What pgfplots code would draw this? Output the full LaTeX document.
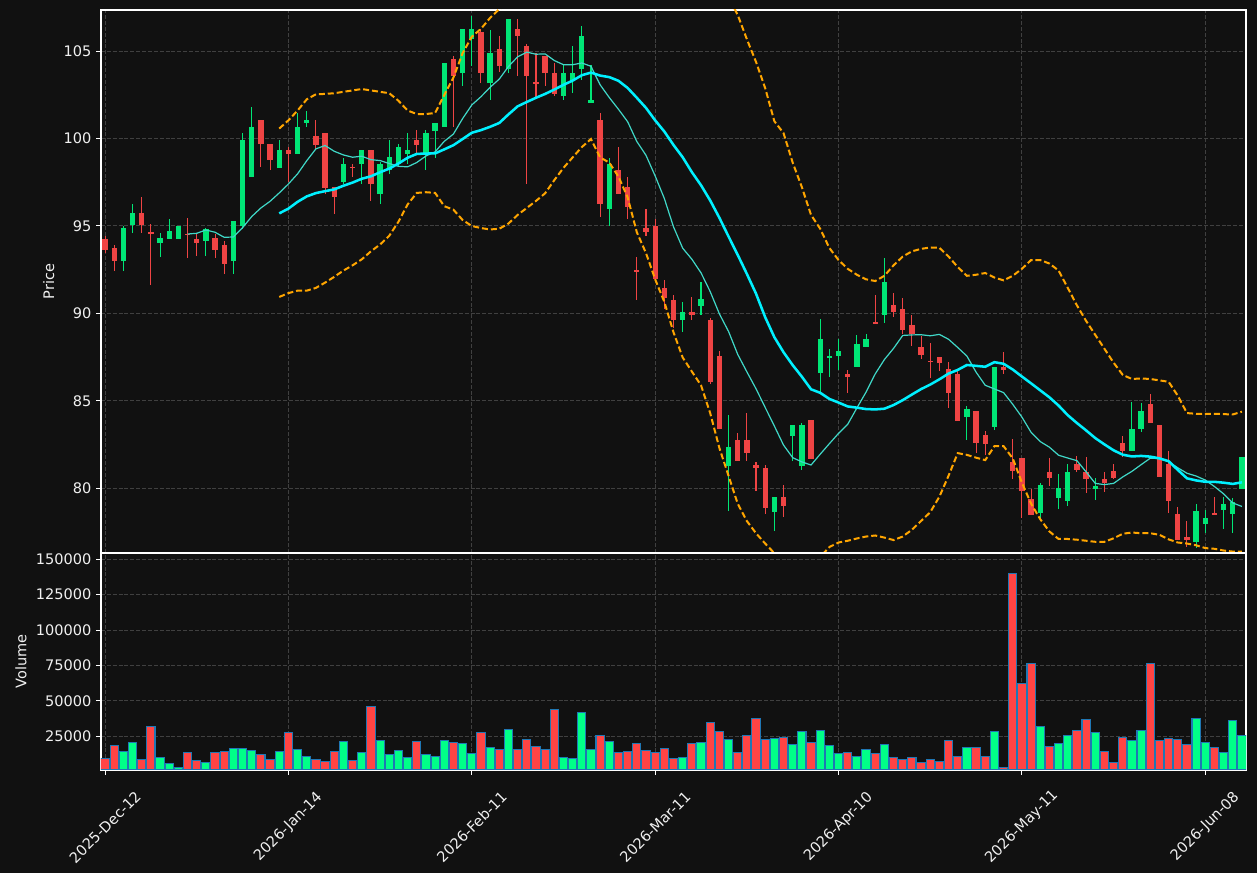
\documentclass[border=0pt]{standalone}
\usepackage{fontspec}
\setmainfont{DejaVu Sans}
\usepackage{pgfplots}
\usepackage{pgfplotstable}
\pgfplotsset{compat=1.18}
\definecolor{bg}{HTML}{111111}
\definecolor{cup}{HTML}{00E676}
\definecolor{cdn}{HTML}{EF4444}
\definecolor{vup}{HTML}{00FF88}
\definecolor{vdn}{HTML}{FF4444}
\definecolor{vedge}{HTML}{1F77B4}
\definecolor{gridc}{HTML}{404040}
\definecolor{matw}{HTML}{00F0FF}
\definecolor{mate}{HTML}{40D8C8}
\definecolor{bandc}{HTML}{FFA500}
\definecolor{txt}{HTML}{F0F0F0}

\pgfplotstableread{
x o h l c v
2 92.97 95.00 92.45 94.90 14409
3 95.08 96.27 94.60 95.75 20765
6 94.00 94.58 93.25 94.32 9935
7 94.28 95.39 94.28 94.72 5935
8 94.28 95.02 94.28 95.02 3110
11 94.12 94.88 93.31 94.82 6641
14 92.97 95.29 92.27 95.29 16528
15 95.00 100.31 94.80 99.93 16528
16 97.78 101.80 97.78 100.66 15115
19 98.34 99.93 98.34 99.35 14409
21 99.09 101.46 99.09 100.66 15822
22 100.86 101.60 100.66 101.08 10879
26 97.52 98.91 97.42 98.56 21471
28 98.52 99.35 97.42 99.35 13703
30 96.81 98.68 96.27 98.56 22177
31 98.18 99.91 97.98 98.96 12290
32 98.52 99.67 98.42 99.53 15115
33 99.09 100.33 98.52 99.35 10172
35 99.17 100.49 98.18 100.33 12290
36 100.45 100.90 98.91 100.90 10879
37 100.64 104.34 100.64 104.34 22177
39 103.73 106.27 102.99 106.27 20059
40 105.68 107.01 104.14 106.27 12996
42 103.15 106.23 102.20 104.88 17234
44 103.95 106.83 103.73 106.83 29946
50 102.41 104.28 102.20 103.77 10172
51 103.29 105.30 102.59 103.77 9466
52 103.95 106.45 103.35 105.88 41952
53 102.02 104.18 102.02 102.22 15822
55 95.99 98.91 94.99 98.56 21471
63 89.63 90.66 88.91 90.06 10172
65 90.42 91.79 89.90 90.80 20765
68 81.27 84.20 78.73 82.37 22883
73 78.67 79.48 77.53 79.48 23589
75 83.00 83.62 81.57 83.62 19352
76 81.27 83.74 81.02 83.62 28533
78 86.62 89.67 85.53 88.53 29239
79 87.48 87.98 86.38 87.58 18647
80 87.54 88.51 86.78 87.84 12996
82 86.92 88.79 86.92 88.23 10879
83 88.07 88.81 88.07 88.51 15822
85 89.92 93.15 89.47 91.79 19352
94 84.10 84.70 82.76 84.56 17234
97 83.50 86.94 83.34 86.94 28533
102 78.57 80.28 78.29 80.18 32064
104 79.46 80.82 78.84 80.02 20059
105 79.28 81.37 78.97 80.91 25709
108 79.98 80.56 79.32 80.16 27827
112 82.15 84.95 82.15 83.38 22177
113 83.38 84.89 83.20 84.40 29239
119 76.94 79.08 76.58 78.69 37714
120 77.97 78.77 77.43 78.29 20765
122 78.77 79.48 77.69 79.12 13703
123 78.53 79.42 77.47 79.22 36302
124 79.96 81.77 79.96 81.77 25709
}\up

\pgfplotstableread{
x o h l c v
0 94.28 94.40 93.44 93.60 9231
1 93.74 93.90 92.45 92.97 18411
4 95.75 96.65 94.60 95.08 8760
5 94.64 95.09 91.60 94.58 32064
9 94.56 95.47 93.15 94.50 13703
10 94.26 94.54 93.31 94.00 8053
12 94.32 94.54 93.15 93.60 13703
13 93.92 94.12 92.27 92.83 14409
17 101.08 101.08 98.36 99.67 12290
18 99.69 99.69 98.18 98.76 8760
20 99.35 99.51 97.52 99.09 27827
23 100.13 101.08 99.41 99.65 8760
24 100.33 100.33 96.83 97.18 7347
25 97.22 97.22 95.67 96.63 14409
27 98.40 98.56 97.78 98.34 8053
29 99.35 99.35 96.43 97.38 46189
34 99.93 100.49 99.17 99.65 21471
38 104.56 104.72 100.64 103.55 20765
41 106.10 106.27 103.15 103.73 27827
43 105.14 105.88 103.79 104.12 15822
45 106.27 106.83 103.59 105.84 15822
46 105.30 105.42 97.42 103.55 22883
47 103.21 104.88 102.39 103.15 17940
48 104.74 104.74 102.99 103.73 15822
49 103.77 104.34 102.43 102.55 44071
54 101.08 101.46 95.53 96.23 25709
56 98.22 99.51 96.81 96.81 13703
57 97.24 97.82 95.39 96.09 14409
58 92.49 93.25 90.76 92.41 20059
59 94.90 95.99 94.40 94.68 15115
60 95.00 95.39 91.99 91.99 13703
61 91.46 91.89 90.26 90.86 16528
62 90.76 91.06 89.17 89.61 9466
64 90.06 90.94 89.61 89.92 20059
66 89.63 89.71 85.99 86.05 34889
67 87.58 87.84 83.40 83.40 28533
69 82.76 83.16 81.55 81.55 13703
70 82.76 84.30 81.55 82.01 25709
71 81.31 81.51 79.86 81.15 37714
72 81.15 81.31 78.53 78.87 22883
74 79.48 80.16 78.37 78.99 24296
77 83.90 83.90 81.67 81.67 20765
81 86.54 86.78 85.43 86.38 13703
84 89.51 91.06 89.37 89.45 12996
86 90.46 91.16 89.77 90.06 10172
87 90.26 90.90 88.83 89.07 8760
88 89.33 89.92 88.11 88.83 10172
89 88.07 88.71 87.38 87.64 6641
90 87.29 88.33 86.28 87.22 8760
91 87.52 87.52 86.68 87.18 7347
92 86.82 87.24 84.59 85.43 22177
93 86.54 86.68 83.84 83.84 10879
95 84.40 84.40 82.01 82.57 17234
96 83.06 83.30 81.91 82.55 10879
98 86.94 87.78 86.52 86.78 3110
99 81.51 82.80 80.52 80.96 140113
100 81.71 81.71 78.33 79.86 62431
101 79.38 79.98 78.49 78.49 76555
103 80.91 81.71 80.12 80.58 17940
106 81.41 81.87 80.91 81.07 29239
107 80.91 81.77 79.72 80.52 37008
109 80.52 80.96 79.76 80.28 14409
110 80.97 81.39 80.56 80.58 6641
111 82.57 82.97 81.77 82.15 24296
114 84.83 85.39 83.76 83.76 76555
115 83.62 83.62 80.66 80.66 22177
116 81.41 82.15 78.57 79.28 23589
117 78.53 78.93 77.04 77.04 22883
118 77.24 78.13 76.64 77.04 19352
121 78.56 79.48 78.47 78.49 17234
}\down

\pgfplotstableread{
x y
9 94.54
10 94.58
11 94.77
12 94.64
13 94.35
14 94.37
15 94.90
16 95.54
17 96.03
18 96.41
19 96.89
20 97.40
21 97.98
22 98.73
23 99.41
24 99.60
25 99.27
26 99.06
27 98.93
28 98.99
29 98.79
30 98.74
31 98.57
32 98.41
33 98.38
34 98.63
35 99.00
36 99.24
37 99.84
38 100.26
39 101.14
40 101.92
41 102.39
42 102.93
43 103.40
44 104.12
45 104.67
46 104.94
47 104.82
48 104.84
49 104.46
50 104.22
51 104.22
52 104.32
53 104.13
54 103.07
55 102.34
56 101.67
57 100.96
58 99.83
59 99.04
60 97.86
61 96.57
62 94.95
63 93.73
64 93.10
65 92.32
66 91.25
67 89.98
68 88.97
69 87.66
70 86.66
71 85.69
72 84.62
73 83.56
74 82.47
75 81.75
76 81.51
77 81.33
78 81.95
79 82.55
80 83.14
81 83.66
82 84.59
83 85.50
84 86.54
85 87.36
86 88.00
87 88.74
88 88.77
89 88.78
90 88.72
91 88.80
92 88.52
93 88.05
94 87.56
95 86.64
96 85.89
97 85.68
98 85.47
99 84.80
100 84.07
101 83.20
102 82.67
103 82.35
104 81.89
105 81.73
106 81.58
107 80.94
108 80.28
109 80.21
110 80.28
111 80.65
112 80.97
113 81.35
114 81.72
115 81.70
116 81.52
117 81.17
118 80.86
119 80.70
120 80.47
121 80.10
122 79.68
123 79.16
124 78.96
}\maten

\pgfplotstableread{
x m u l
19 95.72 100.57 90.94
20 95.99 101.04 91.16
21 96.38 101.60 91.30
22 96.69 102.24 91.30
23 96.88 102.53 91.46
24 96.99 102.55 91.76
25 97.09 102.59 92.09
26 97.30 102.67 92.45
27 97.48 102.75 92.75
28 97.70 102.83 93.09
29 97.84 102.75 93.55
30 98.07 102.67 93.94
31 98.28 102.59 94.44
32 98.57 102.16 95.24
33 98.90 101.60 96.23
34 99.12 101.40 96.89
35 99.14 101.40 96.93
36 99.15 101.46 96.89
37 99.38 102.49 96.13
38 99.62 103.49 95.93
39 99.97 104.88 95.34
40 100.33 105.82 95.00
41 100.48 106.27 94.88
42 100.67 106.90 94.80
43 100.89 107.40 94.84
44 101.38 107.70 95.14
45 101.84 108.05 95.63
46 102.09 108.15 96.03
47 102.33 108.23 96.43
48 102.55 108.23 96.87
49 102.80 107.98 97.62
50 103.07 107.82 98.32
51 103.31 107.70 98.92
52 103.62 107.73 99.51
53 103.77 107.57 99.97
54 103.60 108.28 98.92
55 103.51 108.40 98.62
56 103.30 108.78 97.82
57 102.89 109.15 96.63
58 102.33 110.02 94.64
59 101.75 110.05 93.45
60 101.04 110.13 91.95
61 100.40 110.14 90.66
62 99.63 110.29 88.92
63 98.93 110.38 87.48
64 98.08 109.48 86.68
65 97.33 108.77 85.89
66 96.46 108.62 84.30
67 95.47 108.63 82.31
68 94.40 108.08 80.72
69 93.35 107.07 79.12
70 92.26 105.68 78.13
71 91.13 104.38 77.43
72 89.78 102.88 76.84
73 88.64 100.99 76.29
74 87.78 100.31 75.25
75 87.04 98.62 75.46
76 86.38 97.22 75.54
77 85.66 95.63 75.69
78 85.46 94.84 76.08
79 85.11 93.74 76.64
80 84.90 93.05 76.90
81 84.68 92.55 77.00
82 84.61 92.21 77.13
83 84.53 91.95 77.24
84 84.51 91.85 77.30
85 84.55 92.15 77.18
86 84.76 92.75 77.04
87 85.04 93.25 77.24
88 85.36 93.55 77.63
89 85.67 93.69 78.13
90 85.93 93.77 78.63
91 86.23 93.75 79.52
92 86.56 93.25 80.72
93 86.77 92.65 82.01
94 87.05 92.15 81.91
95 87.00 92.21 81.75
96 86.95 92.31 81.61
97 87.21 92.05 82.41
98 87.12 91.89 82.41
99 86.79 92.15 81.71
100 86.39 92.55 80.32
101 86.00 93.05 79.12
102 85.60 93.05 78.23
103 85.20 92.85 77.53
104 84.73 92.45 77.10
105 84.18 91.46 77.10
106 83.73 90.46 77.06
107 83.31 89.57 77.00
108 82.87 88.77 76.94
109 82.51 87.98 76.94
110 82.17 87.18 77.14
111 81.92 86.48 77.40
112 81.82 86.25 77.47
113 81.85 86.28 77.43
114 81.81 86.25 77.43
115 81.71 86.17 77.34
116 81.55 86.09 77.08
117 81.05 85.29 76.90
118 80.57 84.30 76.84
119 80.45 84.26 76.74
120 80.37 84.26 76.58
121 80.37 84.26 76.54
122 80.32 84.24 76.44
123 80.25 84.22 76.38
124 80.34 84.38 76.38
}\matw

\pgfplotsset{
  chart/.style={
    scale only axis, width=858.75pt,
    xmin=-0.44, xmax=124.44,
    axis line style={draw=white, line width=0.8pt},
    tick style={draw=white, line width=0.8pt},
    tick align=outside, major tick length=3.75pt,
    tick pos=left,
    grid=major,
    grid style={draw=gridc, line width=0.75pt, dash pattern=on 3pt off 1.4pt},
    ticklabel style={font=\fontsize{10.9}{13}\selectfont, text=txt},
    label style={font=\fontsize{10.9}{13}\selectfont, text=txt},
    xtick={0,20,...,120},
  },
  wick/.style={draw=none, mark=none, forget plot,
    error bars/.cd, y dir=both, y explicit, error mark=none,
    error bar style={line width=0.8pt, draw=#1}},
  body/.style={draw=none, mark=none, forget plot,
    error bars/.cd, y dir=both, y explicit, error mark=none,
    error bar style={line width=4pt, draw=#1}},
}

\begin{document}
\begin{tikzpicture}
\fill[bg] (0pt,0pt) rectangle (942.75pt,654.75pt);

\begin{axis}[chart, at={(75.75pt,240pt)}, anchor=south west, height=407.25pt,
  ymin=76.3, ymax=107.35, ytick={80,85,...,105},
  yticklabels={80,85,90,95,100,105},
  xticklabels={}, xmajorticks=false,
  ylabel={Price}]
\addplot[wick=cup] table[x=x, y expr=(\thisrow{h}+\thisrow{l})/2, y error expr=(\thisrow{h}-\thisrow{l})/2] \up;
\addplot[wick=cdn] table[x=x, y expr=(\thisrow{h}+\thisrow{l})/2, y error expr=(\thisrow{h}-\thisrow{l})/2] \down;
\addplot[body=cup] table[x=x, y expr=(\thisrow{o}+\thisrow{c})/2, y error expr=abs(\thisrow{c}-\thisrow{o})/2] \up;
\addplot[body=cdn] table[x=x, y expr=(\thisrow{o}+\thisrow{c})/2, y error expr=abs(\thisrow{c}-\thisrow{o})/2] \down;
\addplot[bandc, line width=1.5pt, dash pattern=on 4.5pt off 2.2pt] table[x=x, y=u] \matw;
\addplot[bandc, line width=1.5pt, dash pattern=on 4.5pt off 2.2pt] table[x=x, y=l] \matw;
\addplot[mate, line width=0.9pt] table[x=x, y=y] \maten;
\addplot[matw, line width=1.9pt] table[x=x, y=m] \matw;
\end{axis}

\begin{axis}[chart, at={(75.75pt,77.25pt)}, anchor=south west, height=162.75pt,
  ymin=1200, ymax=154400, ytick={25000,50000,75000,100000,125000,150000},
  yticklabels={25000,50000,75000,100000,125000,150000},
  scaled y ticks=false,
  xticklabels={2025-Dec-12,2026-Jan-14,2026-Feb-11,2026-Mar-11,2026-Apr-10,2026-May-11,2026-Jun-08},
  x tick label style={yshift=-39pt, rotate=45, anchor=center},
  ylabel={Volume}]
\addplot[ybar, bar width=0.9, bar shift=0pt, fill=vup, draw=vedge, line width=0.8pt] table[x=x, y=v] \up;
\addplot[ybar, bar width=0.9, bar shift=0pt, fill=vdn, draw=vedge, line width=0.8pt] table[x=x, y=v] \down;
\end{axis}
\end{tikzpicture}
\end{document}
